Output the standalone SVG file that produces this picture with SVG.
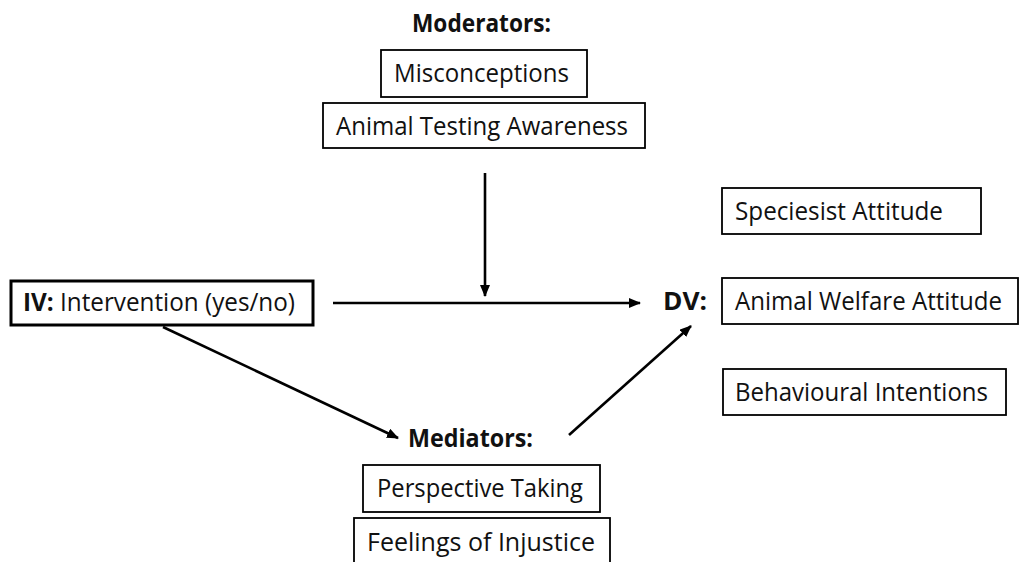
<svg xmlns="http://www.w3.org/2000/svg" width="1019" height="562" viewBox="0 0 1019 562">
<style>
.box{fill:#fff;stroke:#000;stroke-width:1.8}
.thick{fill:#fff;stroke:#000;stroke-width:3}
.t{font-family:"Open Sans",Lato,sans-serif;font-size:25px;fill:#111}
.b{font-weight:bold}
.ln{stroke:#000;stroke-width:2.6;fill:none}
</style>
<defs>
<marker id="ah" markerUnits="userSpaceOnUse" markerWidth="12" markerHeight="10" refX="11" refY="5" orient="auto">
<path d="M0,0 L12,5 L0,10 Z" fill="#000"/>
</marker>
</defs>
<rect width="1019" height="562" fill="#fff"/>
<g id="moderators">
<text class="t b" x="412" y="32" textLength="139" lengthAdjust="spacingAndGlyphs">Moderators:</text>
</g>
<g id="misconceptions">
<rect class="box" x="381" y="50" width="206" height="47"/>
<text class="t" x="394" y="82" textLength="175" lengthAdjust="spacingAndGlyphs">Misconceptions</text>
</g>
<g id="awareness">
<rect class="box" x="323" y="103" width="322" height="45"/>
<text class="t" x="336" y="135" textLength="292" lengthAdjust="spacingAndGlyphs">Animal Testing Awareness</text>
</g>
<g id="iv">
<rect class="thick" x="11" y="281" width="302" height="44"/>
<text class="t" x="23" y="311" textLength="272" lengthAdjust="spacingAndGlyphs"><tspan class="b">IV:</tspan> Intervention (yes/no)</text>
</g>
<g id="dv">
<text class="t b" x="663" y="310" textLength="44" lengthAdjust="spacingAndGlyphs">DV:</text>
</g>
<g id="speciesist">
<rect class="box" x="722" y="188" width="259" height="46"/>
<text class="t" x="735" y="220" textLength="208" lengthAdjust="spacingAndGlyphs">Speciesist Attitude</text>
</g>
<g id="welfare">
<rect class="box" x="722" y="278" width="296" height="46"/>
<text class="t" x="735" y="310" textLength="267" lengthAdjust="spacingAndGlyphs">Animal Welfare Attitude</text>
</g>
<g id="behavioural">
<rect class="box" x="723" y="369" width="283" height="46"/>
<text class="t" x="735" y="401" textLength="253" lengthAdjust="spacingAndGlyphs">Behavioural Intentions</text>
</g>
<g id="mediators">
<text class="t b" x="408" y="447" textLength="125" lengthAdjust="spacingAndGlyphs">Mediators:</text>
</g>
<g id="perspective">
<rect class="box" x="363" y="465" width="237" height="47"/>
<text class="t" x="377" y="497" textLength="206" lengthAdjust="spacingAndGlyphs">Perspective Taking</text>
</g>
<g id="injustice">
<rect class="box" x="354" y="518" width="256" height="50"/>
<text class="t" x="367" y="551" textLength="228" lengthAdjust="spacingAndGlyphs">Feelings of Injustice</text>
</g>
<g id="connectors">
<line class="ln" x1="485" y1="173" x2="485" y2="296" marker-end="url(#ah)"/>
<line class="ln" x1="333" y1="303" x2="640" y2="303" marker-end="url(#ah)"/>
<line class="ln" x1="163" y1="327" x2="398" y2="438" marker-end="url(#ah)"/>
<line class="ln" x1="569" y1="435" x2="691" y2="326" marker-end="url(#ah)"/>
</g>
</svg>
